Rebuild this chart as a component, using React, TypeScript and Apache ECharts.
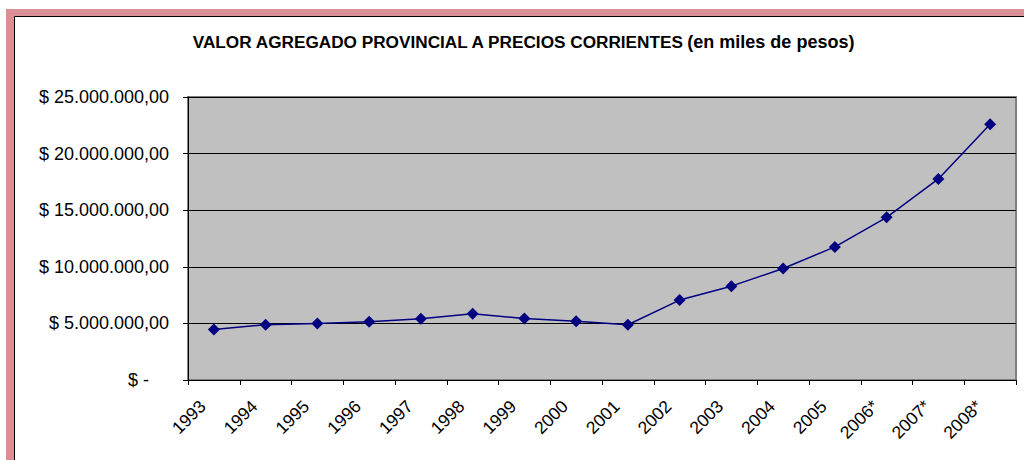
import React, { useEffect, useRef } from "react";
import * as echarts from "echarts";

const categories = ["1993", "1994", "1995", "1996", "1997", "1998", "1999", "2000", "2001", "2002", "2003", "2004", "2005", "2006*", "2007*", "2008*"];
const values = [4470000, 4880000, 5000000, 5140000, 5410000, 5850000, 5440000, 5180000, 4880000, 7060000, 8290000, 9850000, 11760000, 14370000, 17760000, 22590000];
const yTicks = { min: 0, max: 25000000, interval: 5000000 };
const titleText = "VALOR AGREGADO PROVINCIAL A PRECIOS CORRIENTES";
const subTitleText = "(en miles de pesos)";

function fmt(v: number): string {
  if (v === 0) return "{z|$ -}";
  const s = Math.round(v).toString().replace(/\B(?=(\d{3})+(?!\d))/g, ".");
  return "$ " + s + ",00";
}

const FONT = "Arial, 'Liberation Sans', sans-serif";

export default function App() {
  const ref = useRef<HTMLDivElement>(null);
  useEffect(() => {
    if (!ref.current) return;
    const chart = echarts.init(ref.current, null, { renderer: "svg" });
    chart.setOption({
      animation: false,
      backgroundColor: "#ffffff",
      textStyle: { fontFamily: FONT },
      graphic: [
        { type: "rect", z: -10, shape: { x: 6, y: 9, width: 1100, height: 500 }, style: { fill: "#D98F93" } },
        { type: "rect", z: -9, shape: { x: 14.5, y: 16.5, width: 1100, height: 500 }, style: { fill: "#ffffff", stroke: "#000000", lineWidth: 1 } },
        {
          type: "text",
          z: 10,
          x: 523,
          y: 42,
          style: {
            text: "{a|" + titleText + "} {b|" + subTitleText + "}",
            align: "center",
            verticalAlign: "middle",
            rich: {
              a: { fontFamily: FONT, fontWeight: "bold", fontSize: 17.2, fill: "#000" },
              b: { fontFamily: FONT, fontWeight: "bold", fontSize: 18, fill: "#000" },
            },
          },
        },
      ],
      grid: {
        left: 188,
        top: 97,
        right: 8,
        bottom: 80,
        show: true,
        backgroundColor: "#C0C0C0",
        borderColor: "#808080",
        borderWidth: 2,
      },
      xAxis: {
        type: "category",
        data: categories,
        boundaryGap: true,
        axisLine: { lineStyle: { color: "#000", width: 1 } },
        axisTick: { show: true, length: 5, interval: 0, lineStyle: { color: "#000" } },
        axisLabel: {
          interval: 0,
          rotate: 45,
          margin: 12,
          padding: [0, 16, 0, 0],
          fontSize: 17.5,
          color: "#000",
          fontFamily: FONT,
        },
        splitLine: { show: false },
      },
      yAxis: {
        type: "value",
        min: yTicks.min,
        max: yTicks.max,
        interval: yTicks.interval,
        axisLine: { show: true, lineStyle: { color: "#000", width: 1 } },
        axisTick: { show: true, length: 5, lineStyle: { color: "#000" } },
        splitLine: { show: true, lineStyle: { color: "#000", width: 1 } },
        axisLabel: {
          margin: 19,
          fontSize: 18,
          color: "#000",
          fontFamily: FONT,
          formatter: fmt,
          rich: { z: { fontSize: 18, padding: [0, 20, 0, 0], fontFamily: FONT } },
        },
      },
      series: [
        {
          type: "line",
          data: values,
          symbol: "diamond",
          symbolSize: 12,
          itemStyle: { color: "#000080" },
          lineStyle: { color: "#000080", width: 1.5 },
        },
      ],
    });
    return () => chart.dispose();
  }, []);
  return <div ref={ref} style={{ position: "fixed", left: 0, top: 0, width: 1024, height: 460 }} />;
}
